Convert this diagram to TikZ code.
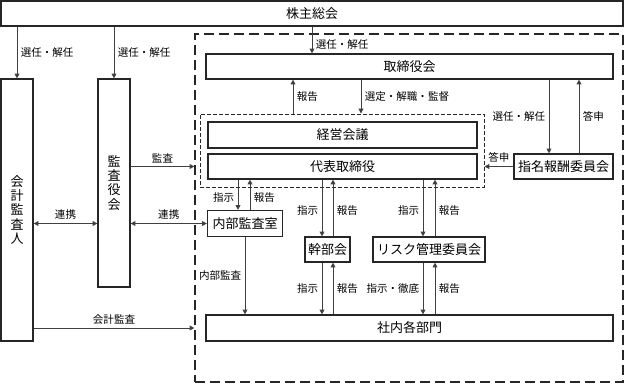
\documentclass[tikz,border=0pt]{standalone}
\usepackage{fontspec}
\setmainfont{Noto Sans CJK JP}
\usetikzlibrary{arrows.meta,positioning}
\tikzset{
  box/.style={draw=black!85,line width=0.9pt,align=center,font=\fontsize{9.75}{10.6}\selectfont,inner sep=1pt},
  wh/.style 2 args={minimum width=#1*0.75pt,minimum height=#2*0.75pt},
  arr/.style={-{Triangle[length=3.6pt,width=3.6pt]},draw=black!75,line width=0.7pt},
  darr/.style={{Triangle[length=3.6pt,width=3.6pt]}-{Triangle[length=3.6pt,width=3.6pt]},draw=black!75,line width=0.7pt},
  lab/.style={font=\fontsize{7.9}{9}\selectfont,inner sep=2.5pt},
  grp/.style={draw=black!85,line width=0.9pt,dash pattern=on 7.5pt off 3.75pt},
  subgrp/.style={draw=black!85,line width=0.7pt,dash pattern=on 3pt off 1.5pt},
}
\begin{document}
\begin{tikzpicture}[x=0.75pt,y=-0.75pt]
\useasboundingbox (0,0) rectangle (625,383);
% groups
\node[grp,wh={428}{348}] (exec) at (409,208) {};
\node[subgrp,wh={284}{73}] (mgmt) at (342,150.5) {};
% boxes
\node[box,wh={622}{25}] (soukai) at (312,13.5) {株主総会};
\node[box,wh={32}{262}] (auditor) at (17,210) {会\\計\\監\\査\\人};
\node[box,wh={32}{208}] (kansa) at (114,183) {監\\査\\役\\会};
\node[box,wh={407}{25}] (board) at (409.5,66.5) {取締役会};
\node[box,wh={269}{26}] (keiei) at (342.5,135) {経営会議};
\node[box,wh={269}{25}] (ceo) at (342.5,166.5) {代表取締役};
\node[box,wh={99}{25}] (nomi) at (563.5,166.5) {指名報酬委員会};
\node[box,wh={75}{26}] (naibu) at (245,223.5) {内部監査室};
\node[box,wh={45}{25}] (kanbu) at (327.5,249.5) {幹部会};
\node[box,wh={112}{25}] (risk) at (429,249.5) {リスク管理委員会};
\node[box,wh={407}{26}] (depts) at (409.5,328) {社内各部門};
% columns of the vertical connectors
\coordinate (xsel) at (312,0);
\coordinate (xrep) at (293,0);
\coordinate (xsup) at (361,0);
\coordinate (xnom) at (549,0);
\coordinate (xans) at (579,0);
\coordinate (xni) at (238,0);
\coordinate (xnr) at (250,0);
\coordinate (xki) at (322,0);
\coordinate (xkr) at (333,0);
\coordinate (xri) at (423,0);
\coordinate (xrr) at (435,0);
% from the shareholders
\draw[arr] (soukai.south -| auditor) -- node[lab,right]{選任・解任} (auditor.north);
\draw[arr] (soukai.south -| kansa) -- node[lab,right]{選任・解任} (kansa.north);
\draw[arr] (soukai.south -| xsel) -- node[lab,right,pos=0.65]{選任・解任} (board.north -| xsel);
% board
\draw[arr] (mgmt.north -| xrep) -- node[lab,right]{報告} (board.south -| xrep);
\draw[arr] (board.south -| xsup) -- node[lab,right]{選定・解職・監督} (mgmt.north -| xsup);
\draw[arr] (board.south -| xnom) -- node[lab,left]{選任・解任} (nomi.north -| xnom);
\draw[arr] (nomi.north -| xans) -- node[lab,right]{答申} (board.south -| xans);
\draw[arr] (nomi.west) -- node[lab,above]{答申} (mgmt.east |- nomi);
% audit
\draw[arr] (kansa.east |- ceo) -- node[lab,above]{監査} (exec.west |- ceo);
\draw[darr] (auditor.east |- naibu) -- node[lab,above]{連携} (kansa.west |- naibu);
\draw[darr] (kansa.east |- naibu) -- node[lab,above]{連携} (naibu.west);
\draw[arr] (auditor.east |- depts) -- node[lab,above]{会計監査} (exec.west |- depts);
\draw[arr] (naibu.south) -- node[lab,left]{内部監査} (depts.north -| naibu);
% president
\draw[arr] (ceo.south -| xni) -- node[lab,left,pos=0.6]{指示} (naibu.north -| xni);
\draw[arr] (naibu.north -| xnr) -- node[lab,right,pos=0.4]{報告} (ceo.south -| xnr);
\draw[arr] (ceo.south -| xki) -- node[lab,left,pos=0.55]{指示} (kanbu.north -| xki);
\draw[arr] (kanbu.north -| xkr) -- node[lab,right,pos=0.45]{報告} (ceo.south -| xkr);
\draw[arr] (ceo.south -| xri) -- node[lab,left,pos=0.55]{指示} (risk.north -| xri);
\draw[arr] (risk.north -| xrr) -- node[lab,right,pos=0.45]{報告} (ceo.south -| xrr);
% departments
\draw[arr] (kanbu.south -| xki) -- node[lab,left]{指示} (depts.north -| xki);
\draw[arr] (depts.north -| xkr) -- node[lab,right]{報告} (kanbu.south -| xkr);
\draw[arr] (risk.south -| xri) -- node[lab,left]{指示・徹底} (depts.north -| xri);
\draw[arr] (depts.north -| xrr) -- node[lab,right]{報告} (risk.south -| xrr);
\end{tikzpicture}
\end{document}
